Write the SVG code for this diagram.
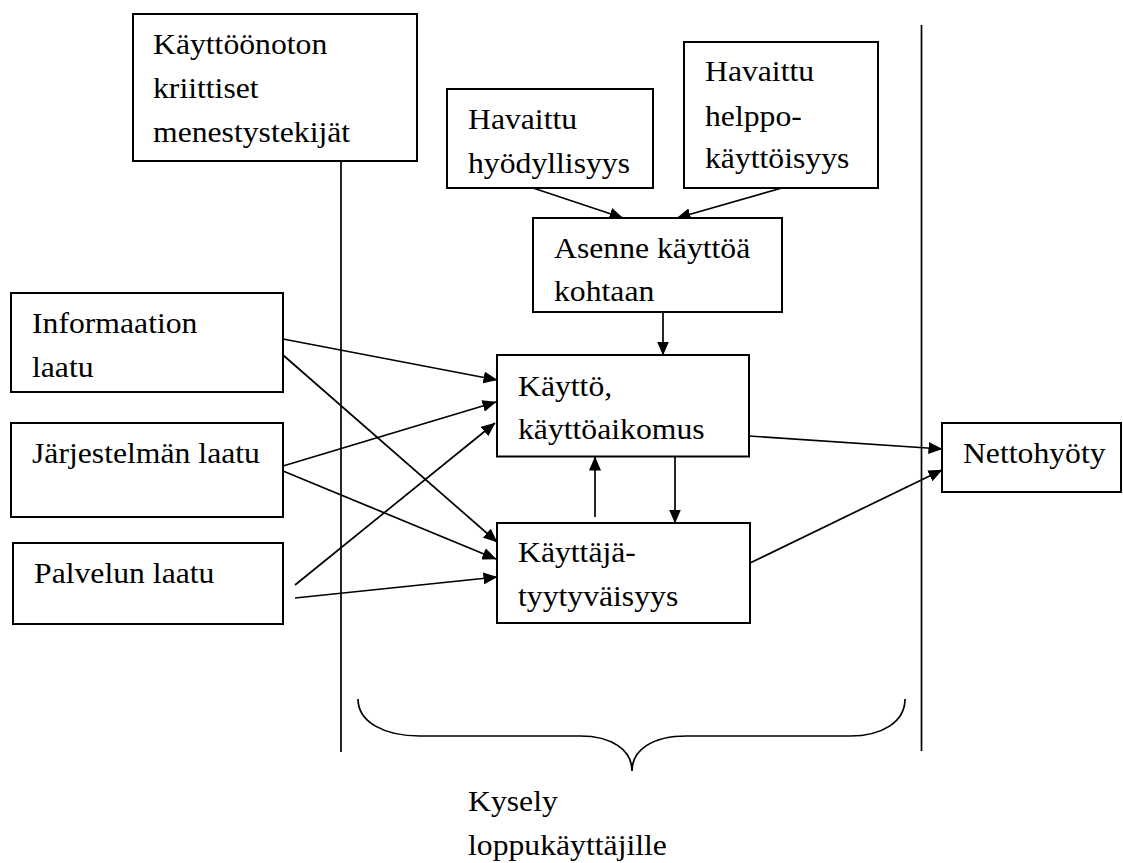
<svg xmlns="http://www.w3.org/2000/svg" width="1123" height="863" viewBox="0 0 1123 863">
  <style>
    .box { fill: #ffffff; stroke: #000000; stroke-width: 2; }
    .lbl { font-family: 'Liberation Serif', 'Times New Roman', Times, serif; font-size: 29.5px; fill: #000000;
           transform-box: fill-box; transform-origin: 0% 100%; transform: scaleX(1.075); }
    .edge { fill: none; stroke: #000000; stroke-width: 1.7; marker-end: url(#arrow); }
    .rule { fill: none; stroke: #000000; stroke-width: 1.7; }
  </style>
  <defs>
    <marker id="arrow" markerUnits="userSpaceOnUse" markerWidth="15" markerHeight="12" refX="13.5" refY="6" orient="auto">
      <path d="M0,0 L14,6 L0,12 z" fill="#000000"/>
    </marker>
  </defs>
  <rect width="1123" height="863" fill="#ffffff"/>

  <!-- phase separators and survey brace -->
  <g id="dividers">
    <line class="rule" x1="341" y1="161" x2="341" y2="752"/>
    <line class="rule" x1="921.5" y1="25" x2="921.5" y2="751"/>
    <path class="rule" d="M358,699 C358,722 384,736 420,736 L580,736 C612,736 632,750 632,771 C632,750 652,736 687,736 L850,736 C882,736 905,722 905,699"/>
  </g>

  <!-- connectors -->
  <g id="connectors">
    <line class="edge" x1="533" y1="188" x2="623" y2="218"/>
    <line class="edge" x1="782" y1="188" x2="677" y2="218"/>
    <line class="edge" x1="663" y1="312" x2="663" y2="355"/>
    <line class="edge" x1="283" y1="339" x2="497" y2="380"/>
    <line class="edge" x1="283" y1="355" x2="497" y2="542"/>
    <line class="edge" x1="283" y1="466" x2="496" y2="402"/>
    <line class="edge" x1="283" y1="471" x2="496" y2="559"/>
    <line class="edge" x1="295" y1="585" x2="495" y2="423"/>
    <line class="edge" x1="295" y1="598" x2="497" y2="577"/>
    <line class="edge" x1="675" y1="457" x2="675" y2="523"/>
    <line class="edge" x1="595" y1="517" x2="595" y2="457"/>
    <line class="edge" x1="749" y1="436" x2="942" y2="449"/>
    <line class="edge" x1="750" y1="563" x2="942" y2="470"/>
  </g>

  <g id="kriittiset">
    <rect class="box" x="133" y="14" width="284" height="147"/>
    <text class="lbl" x="153" y="54">Käyttöönoton</text>
    <text class="lbl" x="153" y="98">kriittiset</text>
    <text class="lbl" x="153" y="142">menestystekijät</text>
  </g>

  <g id="hyodyllisyys">
    <rect class="box" x="447" y="89" width="206" height="99"/>
    <text class="lbl" x="468" y="129">Havaittu</text>
    <text class="lbl" x="468" y="173">hyödyllisyys</text>
  </g>

  <g id="helppokayttoisyys">
    <rect class="box" x="684" y="42" width="194" height="146"/>
    <text class="lbl" x="705" y="81">Havaittu</text>
    <text class="lbl" x="705" y="126">helppo-</text>
    <text class="lbl" x="705" y="168">käyttöisyys</text>
  </g>

  <g id="asenne">
    <rect class="box" x="533" y="218" width="249" height="94"/>
    <text class="lbl" x="554" y="258">Asenne käyttöä</text>
    <text class="lbl" x="554" y="301">kohtaan</text>
  </g>

  <g id="informaatio">
    <rect class="box" x="11" y="293" width="272" height="99"/>
    <text class="lbl" x="32" y="333">Informaation</text>
    <text class="lbl" x="32" y="377">laatu</text>
  </g>

  <g id="jarjestelma">
    <rect class="box" x="11" y="423" width="272" height="94"/>
    <text class="lbl" x="32" y="463">Järjestelmän laatu</text>
  </g>

  <g id="palvelu">
    <rect class="box" x="13" y="543" width="270" height="81"/>
    <text class="lbl" x="34" y="583">Palvelun laatu</text>
  </g>

  <g id="kaytto">
    <rect class="box" x="497" y="355" width="252" height="101.5"/>
    <text class="lbl" x="518" y="396">Käyttö,</text>
    <text class="lbl" x="518" y="439">käyttöaikomus</text>
  </g>

  <g id="tyytyvaisyys">
    <rect class="box" x="497" y="523" width="253" height="100"/>
    <text class="lbl" x="518" y="562">Käyttäjä-</text>
    <text class="lbl" x="518" y="606">tyytyväisyys</text>
  </g>

  <g id="nettohyoty">
    <rect class="box" x="942" y="423" width="179" height="69"/>
    <text class="lbl" x="963" y="463">Nettohyöty</text>
  </g>

  <g id="kysely">
    <text class="lbl" x="468" y="811">Kysely</text>
    <text class="lbl" x="468" y="855">loppukäyttäjille</text>
  </g>
</svg>
